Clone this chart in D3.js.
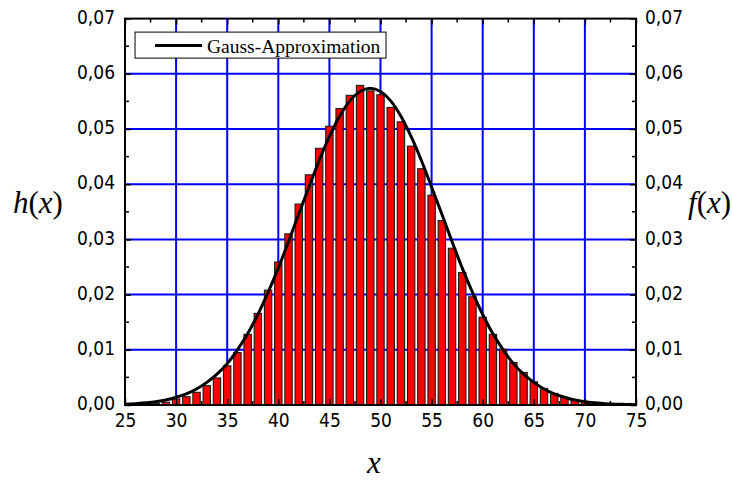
<!DOCTYPE html>
<html>
<head>
<meta charset="utf-8">
<script src="https://cdn.jsdelivr.net/npm/d3@7"></script>
<style>
	body { margin: 0; background: #fff; }
	.tick-label { font-family: "DejaVu Sans Condensed", "Liberation Sans", sans-serif; font-stretch: condensed; font-size: 19px; fill: #000; }
	.axis-title { font-family: "Liberation Serif", "Times New Roman", serif; font-size: 31px; fill: #000; }
</style>
</head>
<body>
<div id="chart"></div>
<script>
// histogram classes (bar centres) and relative frequencies h(x)
var binCenters = [27, 28, 29, 30, 31, 32, 33, 34, 35, 36, 37, 38, 39, 40, 41, 42, 43, 44, 45, 46, 47, 48, 49,
	50, 51, 52, 53, 54, 55, 56, 57, 58, 59, 60, 61, 62, 63, 64, 65, 66, 67, 68, 69, 70, 71, 72];
var binValues = [0.0002, 0.0003, 0.0005, 0.0011, 0.0015, 0.0023, 0.0035, 0.0049, 0.0071, 0.0095, 0.0128, 0.0166,
	0.0208, 0.0259, 0.0310, 0.0364, 0.0417, 0.0465, 0.0505, 0.0537, 0.0561, 0.0579, 0.0569, 0.0562, 0.0539,
	0.0513, 0.0469, 0.0428, 0.0380, 0.0334, 0.0284, 0.0240, 0.0196, 0.0159, 0.0128, 0.0101, 0.0077, 0.0059,
	0.0042, 0.0030, 0.0021, 0.0014, 0.0009, 0.0005, 0.0003, 0.0002];

var curveX = [25, 26, 27, 28, 29, 30, 31, 32, 33, 34, 35, 36, 37, 38, 39, 40, 41, 42, 43, 44, 45, 46, 47, 48, 49,
	50, 51, 52, 53, 54, 55, 56, 57, 58, 59, 60, 61, 62, 63, 64, 65, 66, 67, 68, 69, 70, 71, 72, 73, 74, 75];
var curveY = [0.00015, 0.00024, 0.0004, 0.0006, 0.0009, 0.0014, 0.0020, 0.0029, 0.0041, 0.0056, 0.0075, 0.0100,
	0.0129, 0.0164, 0.0204, 0.0248, 0.0296, 0.0346, 0.0395, 0.0443, 0.0486, 0.0523, 0.0551, 0.0568, 0.0574,
	0.0568, 0.0551, 0.0523, 0.0486, 0.0443, 0.0395, 0.0346, 0.0296, 0.0248, 0.0204, 0.0164, 0.0129, 0.0100,
	0.0075, 0.0056, 0.0041, 0.0029, 0.0020, 0.0014, 0.0009, 0.0006, 0.0004, 0.00024, 0.00015, 0.0001, 0.00005];

var xTicks = [25, 30, 35, 40, 45, 50, 55, 60, 65, 70, 75];
var yTicks = [0, 0.01, 0.02, 0.03, 0.04, 0.05, 0.06, 0.07];
var legendLabel = "Gauss-Approximation";

var padding = { top: 18.6, right: 96, bottom: 77, left: 125 },
	fullWidth = 732,
	fullHeight = 482,
	width = fullWidth - padding.left - padding.right,
	height = fullHeight - padding.top - padding.bottom,
	barWidth = 0.72;

var locale = d3.formatLocale({ decimal: ",", thousands: ".", grouping: [3], currency: ["", "€"] });
var yFormat = locale.format(".2f");

var xScale = d3.scaleLinear().domain([25, 75]).range([0, width]);
var yScale = d3.scaleLinear().domain([0, 0.07]).range([height, 0]);

var svg = d3.select("#chart").append("svg")
	.attr("width", fullWidth)
	.attr("height", fullHeight)
	.append("g")
	.attr("transform", "translate(" + padding.left + "," + padding.top + ")");

// blue grid
var grid = svg.append("g").attr("class", "grid");
grid.selectAll("line.gx")
	.data(xTicks.slice(1, -1))
	.enter().append("line")
	.attr("x1", function(d) { return xScale(d); })
	.attr("x2", function(d) { return xScale(d); })
	.attr("y1", 0)
	.attr("y2", height)
	.attr("stroke", "#0000ff")
	.attr("stroke-width", 2);
grid.selectAll("line.gy")
	.data(yTicks.slice(1, -1))
	.enter().append("line")
	.attr("y1", function(d) { return yScale(d); })
	.attr("y2", function(d) { return yScale(d); })
	.attr("x1", 0)
	.attr("x2", width)
	.attr("stroke", "#0000ff")
	.attr("stroke-width", 2);

// histogram bars
svg.append("g")
	.attr("class", "bars")
	.selectAll("rect")
	.data(binValues)
	.enter().append("rect")
	.attr("x", function(d, i) { return xScale(binCenters[i] - barWidth / 2); })
	.attr("y", function(d) { return yScale(d); })
	.attr("width", xScale(barWidth) - xScale(0))
	.attr("height", function(d) { return height - yScale(d); })
	.attr("fill", "#ff0000")
	.attr("stroke", "#1a1a1a")
	.attr("stroke-width", 1.1);

// gauss curve
var line = d3.line()
	.x(function(d, i) { return xScale(curveX[i]); })
	.y(function(d) { return yScale(d); })
	.curve(d3.curveMonotoneX);
svg.append("path")
	.datum(curveY)
	.attr("d", line)
	.attr("fill", "none")
	.attr("stroke", "#000")
	.attr("stroke-width", 3);

// minor ticks for every axis
var xMinor = d3.range(25, 75.1, 2.5),
	yMinor = d3.range(0, 0.0701, 0.005);

function axisFrame(axis) {
	return function(g) {
		g.call(axis.tickSizeInner(-6).tickSizeOuter(0));
		g.select(".domain").remove();
		g.selectAll(".tick line").attr("stroke", "#000").attr("stroke-width", 1.5);
		g.selectAll(".tick text").attr("class", "tick-label").attr("font-family", null).attr("font-size", null);
	};
}

var axes = svg.append("g").attr("class", "axes");

// bottom axis
axes.append("g")
	.attr("transform", "translate(0," + height + ")")
	.call(axisFrame(d3.axisBottom(xScale).tickValues(xTicks).tickFormat(d3.format("d"))))
	.selectAll(".tick text").attr("y", 9);
// top axis (no labels)
axes.append("g")
	.call(axisFrame(d3.axisTop(xScale).tickValues(xTicks).tickFormat("")));
// left axis
axes.append("g")
	.call(axisFrame(d3.axisLeft(yScale).tickValues(yTicks).tickFormat(yFormat)))
	.selectAll(".tick text").attr("x", -10).attr("dy", "0.25em");
// right axis
axes.append("g")
	.attr("transform", "translate(" + width + ",0)")
	.call(axisFrame(d3.axisRight(yScale).tickValues(yTicks).tickFormat(yFormat)))
	.selectAll(".tick text").attr("x", 9).attr("dy", "0.25em");

// minor ticks
axes.selectAll("line.minor-x")
	.data(xMinor.filter(function(d) { return d % 5 != 0; }))
	.enter().append("g")
	.each(function(d) {
		var g = d3.select(this);
		g.append("line").attr("x1", xScale(d)).attr("x2", xScale(d)).attr("y1", height).attr("y2", height - 4);
		g.append("line").attr("x1", xScale(d)).attr("x2", xScale(d)).attr("y1", 0).attr("y2", 4);
	})
	.selectAll("line").attr("stroke", "#000").attr("stroke-width", 1.5);
axes.selectAll("line.minor-y")
	.data(yMinor.filter(function(d) { return Math.round(d * 1000) % 10 != 0; }))
	.enter().append("g")
	.each(function(d) {
		var g = d3.select(this);
		g.append("line").attr("y1", yScale(d)).attr("y2", yScale(d)).attr("x1", 0).attr("x2", 4);
		g.append("line").attr("y1", yScale(d)).attr("y2", yScale(d)).attr("x1", width).attr("x2", width - 4);
	})
	.selectAll("line").attr("stroke", "#000").attr("stroke-width", 1.5);

// frame
svg.append("rect")
	.attr("x", 0)
	.attr("y", 0)
	.attr("width", width)
	.attr("height", height)
	.attr("fill", "none")
	.attr("stroke", "#000")
	.attr("stroke-width", 2);

// legend
var legend = svg.append("g").attr("class", "legend")
	.attr("transform", "translate(" + (xScale(26) - 0.2) + "," + 13.5 + ")");
legend.append("rect")
	.attr("width", 251)
	.attr("height", 26)
	.attr("fill", "#fff")
	.attr("stroke", "#000")
	.attr("stroke-width", 1);
legend.append("line")
	.attr("x1", 20)
	.attr("x2", 67)
	.attr("y1", 13.5)
	.attr("y2", 13.5)
	.attr("stroke", "#000")
	.attr("stroke-width", 3);
legend.append("text")
	.attr("x", 72)
	.attr("y", 20.5)
	.attr("font-family", "'Liberation Serif', 'Times New Roman', serif")
	.attr("font-size", 19.5)
	.text(legendLabel);

// axis titles
function italicTitle(sel, letter) {
	sel.append("tspan").attr("font-style", "italic").text(letter);
	sel.append("tspan").text("(");
	sel.append("tspan").attr("font-style", "italic").text("x");
	sel.append("tspan").text(")");
}
var root = d3.select("#chart svg");
root.append("text").attr("class", "axis-title")
	.attr("x", 13)
	.attr("y", 213)
	.call(italicTitle, "h");
root.append("text").attr("class", "axis-title")
	.attr("x", 688)
	.attr("y", 213)
	.call(italicTitle, "f");
root.append("text").attr("class", "axis-title")
	.attr("x", 374)
	.attr("y", 473)
	.attr("text-anchor", "middle")
	.attr("font-style", "italic")
	.text("x");
</script>
</body>
</html>
